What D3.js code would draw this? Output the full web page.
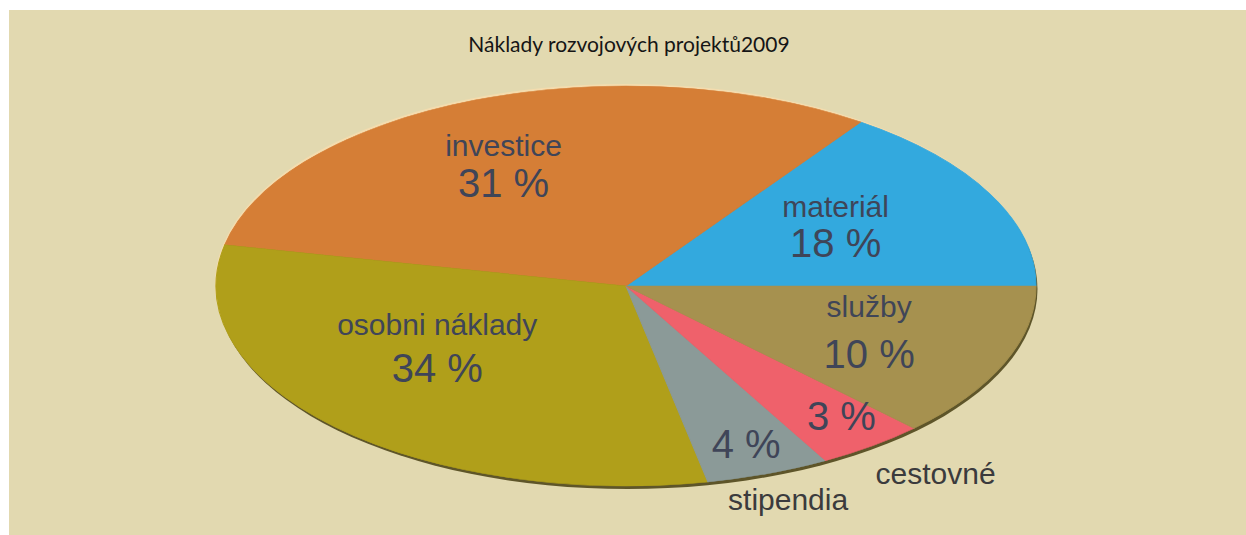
<!DOCTYPE html>
<html>
<head>
<meta charset="utf-8">
<script src="https://cdn.jsdelivr.net/npm/d3@7"></script>
<style>
  html, body { margin: 0; padding: 0; background: #ffffff; }
  svg { display: block; }
</style>
</head>
<body>
<svg id="chart" width="1246" height="535"></svg>
<script>
// slices in drawing order, counter-clockwise from 3 o'clock
var categories = ["materiál", "investice", "osobni náklady", "stipendia", "cestovné", "služby"];
// angular share of each slice as drawn in the picture
var shares = [15.3, 31.4, 31.5, 4.9, 4.3, 12.6];
// percentages printed on the slices
var percentLabels = [18, 31, 34, 4, 3, 10];
var colors = ["#33a9de", "#d57e36", "#b09f1a", "#8b9a98", "#ef616b", "#a6914f"];
var title = "Náklady rozvojových projektů2009";

// label placement: [radius factor, angle shift in degrees] of the name baseline
var nameAt = [[0.617, 6.5], [0.715, 3.1], [0.522, -16.7], [1.188, -0.9], [1.246, 0.4], [0.613, 8]];
// placement of the percentage when the name sits outside the pie
var pctAt = [null, null, null, [0.908, -1.5], [0.892, -0.8], null];
var lineGap = [40, 41, 47, 0, 0, 51];

var W = 1246, H = 535;
var cx = 626, cy = 286, rx = 410, ry = 200;

var svg = d3.select("#chart");
svg.append("rect").attr("x", 9).attr("y", 10).attr("width", W - 9).attr("height", H - 10).attr("fill", "#e2d9b0");

svg.append("text").attr("x", 629).attr("y", 52).attr("text-anchor", "middle")
	.attr("font-family", "Lato, 'Noto Sans', sans-serif").attr("font-size", 21).attr("fill", "#151515")
	.text(title);

// rim of the tilted disc: light top edge, dark bottom edge
svg.append("ellipse").attr("cx", cx - 1).attr("cy", cy - 2).attr("rx", rx).attr("ry", ry).attr("fill", "#f4dcae");
svg.append("ellipse").attr("cx", cx + 1.5).attr("cy", cy + 3).attr("rx", rx).attr("ry", ry).attr("fill", "#5e5529");

var pie = d3.pie().sort(null).value(function (d) { return d; })
	.startAngle(Math.PI / 2).endAngle(Math.PI / 2 - 2 * Math.PI);
var arcs = pie(shares);
var arc = d3.arc().innerRadius(0).outerRadius(ry);

var disc = svg.append("g").attr("transform", "translate(" + cx + "," + cy + ") scale(" + (rx / ry) + ",1)");
disc.selectAll("path").data(arcs).enter().append("path")
	.attr("d", arc)
	.attr("fill", function (d, i) { return colors[i]; })
	.attr("stroke", function (d, i) { return colors[i]; })
	.attr("stroke-width", 0.5);

function onDisc(d, p) {
	var mid = (d.startAngle + d.endAngle) / 2;
	var t = Math.PI / 2 - mid + p[1] * Math.PI / 180;
	return [cx + rx * p[0] * Math.cos(t), cy - ry * p[0] * Math.sin(t)];
}

var labels = svg.append("g").attr("font-family", "'Liberation Sans', Arial, sans-serif").attr("text-anchor", "middle");
arcs.forEach(function (d, i) {
	var n = onDisc(d, nameAt[i]);
	var outside = pctAt[i] !== null;
	labels.append("text").attr("x", n[0]).attr("y", n[1])
		.attr("font-size", 30).attr("fill", outside ? "#3b3b3d" : "#3f4558")
		.text(categories[i]);
	var p = outside ? onDisc(d, pctAt[i]) : [n[0], n[1] + lineGap[i]];
	labels.append("text").attr("x", p[0]).attr("y", p[1])
		.attr("font-size", 40).attr("fill", "#3f4558")
		.text(percentLabels[i] + " %");
});
</script>
</body>
</html>
